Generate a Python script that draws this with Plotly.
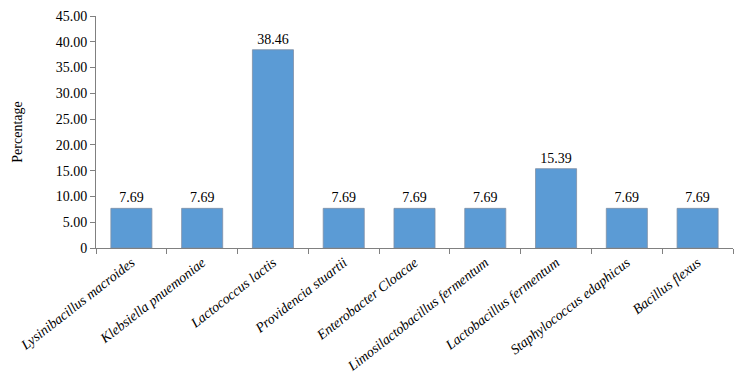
import plotly.graph_objects as go

categories = ["Lysinibacillus macroides", "Klebsiella pnuemoniae", "Lactococcus lactis",
              "Providencia stuartii", "Enterobacter Cloacae", "Limosilactobacillus fermentum",
              "Lactobacillus fermentum", "Staphylococcus edaphicus", "Bacillus flexus"]
values = [7.69, 7.69, 38.46, 7.69, 7.69, 7.69, 15.39, 7.69, 7.69]
ytick_vals = [0, 5, 10, 15, 20, 25, 30, 35, 40, 45]
ytick_text = ["0", "5.00", "10.00", "15.00", "20.00", "25.00", "30.00", "35.00", "40.00", "45.00"]

font = "Liberation Serif, Times New Roman, serif"

fig = go.Figure(go.Bar(
    x=categories, y=values,
    marker=dict(color="#5B9BD5", line=dict(color="#7F8FA6", width=0.8)),
    text=[f"{v:.2f}" for v in values], textposition="outside",
    textfont=dict(family=font, size=14, color="#000000"),
    cliponaxis=False,
))

# page body has an 8px default margin, so the figure is sized to fit the window
fig.update_layout(
    width=732, height=376,
    margin=dict(l=88, r=7, t=8, b=136),
    paper_bgcolor="white", plot_bgcolor="white",
    bargap=0.42,
    showlegend=False,
    font=dict(family=font, color="#000000"),
)
fig.update_xaxes(
    automargin=False,
    tickangle=-38,
    tickfont=dict(family=font, size=14, style="italic"),
    showline=True, linecolor="#808080", linewidth=1,
    ticks="outside", ticklen=5, tickcolor="#808080",
    tickson="boundaries",
    showgrid=False,
)
fig.update_yaxes(
    automargin=False,
    range=[0, 45],
    tickvals=ytick_vals, ticktext=ytick_text,
    tickfont=dict(family=font, size=14),
    showline=True, linecolor="#808080", linewidth=1,
    ticks="outside", ticklen=5, tickcolor="#808080",
    showgrid=False, zeroline=False,
    title=dict(text="Percentage", font=dict(family=font, size=14), standoff=29),
)

fig.write_html("out.html")
